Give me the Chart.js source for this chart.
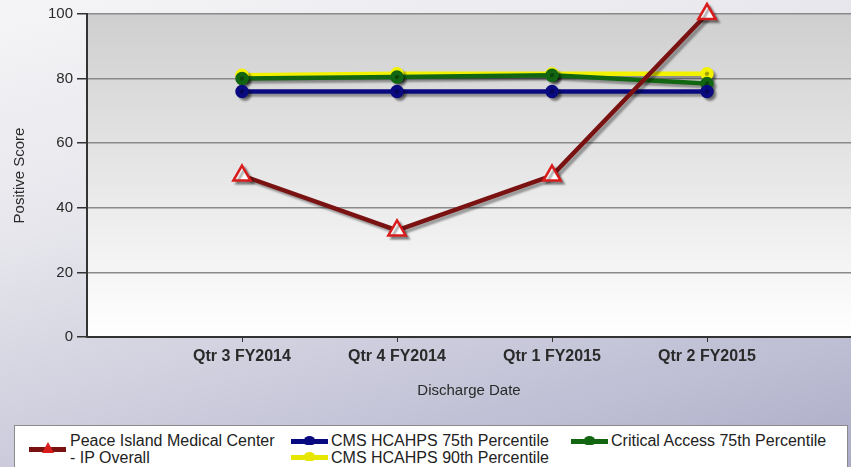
<!DOCTYPE html>
<html>
<head>
<meta charset="utf-8">
<script src="https://cdn.jsdelivr.net/npm/chart.js@4"></script>
<style>
html, body { margin: 0; padding: 0; }
body {
  width: 851px; height: 467px; overflow: hidden; position: relative;
  background: linear-gradient(165deg, #f5f5f7 0%, #e6e6ec 35%, #c4c4d8 75%, #acacc8 100%);
  font-family: "Liberation Sans", Arial, sans-serif;
}
#wrap { position: absolute; left: 0; top: 0; width: 851px; height: 467px; }
#legend {
  position: absolute; left: 14px; top: 425px; width: 834px; height: 60px;
  background: #fff; border: 1px solid #8a8a8a; box-sizing: border-box;
  font-size: 16px; color: #222;
}
.item { position: absolute; line-height: 17px; white-space: nowrap; }
.icon { position: absolute; width: 37px; height: 12px; }
.icon .ln { position: absolute; left: 0; right: 0; top: 4px; height: 5px; }
.icon .dot { position: absolute; left: 13px; top: 1px; width: 11px; height: 9px; border-radius: 50% 50% 30% 30%; }
</style>
</head>
<body>
<div id="wrap"><canvas id="chart" width="851" height="467"></canvas></div>
<div id="legend"></div>
<script>
const quarters = ["Qtr 3 FY2014", "Qtr 4 FY2014", "Qtr 1 FY2015", "Qtr 2 FY2015"];
const peaceIsland = [50, 33, 50, 100];
const cms75 = [76, 76, 76, 76];
const critical75 = [80, 80.5, 81, 78.5];
const cms90 = [81, 81.5, 81.5, 81.5];
const yTicks = [0, 20, 40, 60, 80, 100];

function pts(arr) {
  return arr.map((v, i) => ({ x: i + 1, y: v }));
}

const plotBg = {
  id: "plotBg",
  beforeDraw(chart) {
    const { ctx, chartArea: a } = chart;
    const g = ctx.createLinearGradient(0, a.top, 0, a.bottom);
    g.addColorStop(0, "#cfcfcf");
    g.addColorStop(1, "#ffffff");
    ctx.save();
    ctx.fillStyle = g;
    ctx.fillRect(a.left, a.top, a.right - a.left, a.bottom - a.top);
    ctx.restore();
  }
};

const shadow = {
  id: "shadow",
  beforeDatasetDraw(chart) {
    const ctx = chart.ctx;
    ctx.save();
    ctx.shadowColor = "rgba(0,0,0,0.35)";
    ctx.shadowOffsetX = 3;
    ctx.shadowOffsetY = 3;
    ctx.shadowBlur = 2;
  },
  afterDatasetDraw(chart) {
    chart.ctx.restore();
  }
};

new Chart(document.getElementById("chart"), {
  type: "line",
  data: {
    datasets: [
      {
        label: "Peace Island Medical Center - IP Overall",
        data: pts(peaceIsland),
        borderColor: "#7a1212",
        borderWidth: 4.5,
        pointStyle: "triangle",
        pointRadius: 10,
        pointBorderWidth: 2.5,
        pointBorderColor: "#d81c1c",
        pointBackgroundColor: "#ffffff",
        clip: false
      },
      {
        label: "CMS HCAHPS 75th Percentile",
        data: pts(cms75),
        borderColor: "#0a0a80",
        backgroundColor: "#0a0a80",
        borderWidth: 4.5,
        pointRadius: 4.5,
        clip: false
      },
      {
        label: "Critical Access 75th Percentile",
        data: pts(critical75),
        borderColor: "#126612",
        backgroundColor: "#126612",
        borderWidth: 4.5,
        pointRadius: 4.5,
        clip: false
      },
      {
        label: "CMS HCAHPS 90th Percentile",
        data: pts(cms90),
        borderColor: "#f2f200",
        backgroundColor: "#f2f200",
        borderWidth: 4.5,
        pointRadius: 4.5,
        clip: false
      }
    ]
  },
  options: {
    responsive: false,
    animation: false,
    layout: { autoPadding: false, padding: { top: 14, left: 0, right: 0, bottom: 67 } },
    plugins: { legend: { display: false }, tooltip: { enabled: false } },
    scales: {
      x: {
        type: "linear",
        min: 0,
        max: 764 / 155,
        afterBuildTicks: (s) => { s.ticks = quarters.map((q, i) => ({ value: i + 1 })); },
        afterFit: (s) => { s.height = 63; s.paddingLeft = 0; s.paddingRight = 0; },
        ticks: {
          callback: (v) => quarters[v - 1],
          font: { family: "Liberation Sans", size: 16, weight: "bold" },
          color: "#2a2a2a",
          padding: 5,
          maxRotation: 0
        },
        grid: { drawOnChartArea: false, drawTicks: true, tickLength: 5, tickColor: "#333" },
        border: { color: "#333", width: 2 },
        title: {
          display: true,
          text: "Discharge Date",
          font: { family: "Liberation Sans", size: 15 },
          color: "#2a2a2a",
          padding: { top: 0, bottom: 0 }
        }
      },
      y: {
        min: 0,
        max: 100,
        afterBuildTicks: (s) => { s.ticks = yTicks.map(v => ({ value: v })); },
        afterFit: (s) => { s.width = 87; },
        ticks: {
          font: { family: "Liberation Sans", size: 15 },
          color: "#2a2a2a",
          padding: 4
        },
        grid: { color: "#8a8a8a", lineWidth: 1.5, tickLength: 10, tickColor: "#333" },
        border: { color: "#333", width: 2 },
        title: {
          display: true,
          text: "Positive Score",
          font: { family: "Liberation Sans", size: 15 },
          color: "#2a2a2a",
          padding: { top: 11, bottom: 0 }
        }
      }
    }
  },
  plugins: [plotBg, shadow]
});

// legend
const legendItems = [
  { lines: ["Peace Island Medical Center", "- IP Overall"], line: "#7a1212", marker: "tri", icon: [14, 17], text: [55, 6] },
  { lines: ["CMS HCAHPS 75th Percentile"], line: "#0a0a80", marker: "#0a0a80", icon: [276, 9], text: [316, 6] },
  { lines: ["Critical Access 75th Percentile"], line: "#126612", marker: "#126612", icon: [556, 9], text: [596, 6] },
  { lines: ["CMS HCAHPS 90th Percentile"], line: "#e6e600", marker: "#e6e600", icon: [276, 25], text: [316, 23] }
];
const legend = document.getElementById("legend");
legendItems.forEach(it => {
  const ic = document.createElement("div");
  ic.className = "icon";
  ic.style.left = it.icon[0] + "px";
  ic.style.top = it.icon[1] + "px";
  let mk;
  if (it.marker === "tri") {
    mk = '<div style="position:absolute;left:13px;top:-1px;width:0;height:0;border-left:6px solid transparent;border-right:6px solid transparent;border-bottom:11px solid #d81c1c"></div>';
  } else {
    mk = '<div class="dot" style="background:' + it.marker + '"></div>';
  }
  ic.innerHTML = '<div class="ln" style="background:' + it.line + '"></div>' + mk;
  legend.appendChild(ic);
  const t = document.createElement("div");
  t.className = "item";
  t.style.left = it.text[0] + "px";
  t.style.top = it.text[1] + "px";
  t.innerHTML = it.lines.join("<br>");
  legend.appendChild(t);
});
</script>
</body>
</html>
